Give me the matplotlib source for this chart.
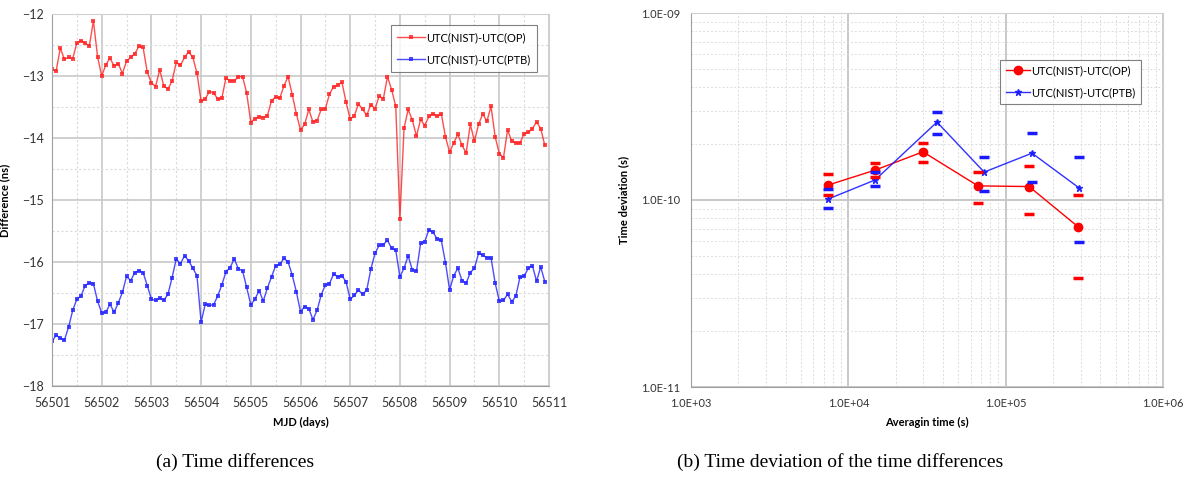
import numpy as np
import matplotlib
matplotlib.use('Agg')
import matplotlib.pyplot as plt
from matplotlib.ticker import MultipleLocator, LogLocator, FuncFormatter, NullFormatter

plt.rcParams['font.family'] = ['Lato', 'DejaVu Sans']

# (a) time differences, one point every 2 hours from MJD 56501
mjd_start = 56501
points_per_day = 12
diff_op = [-12.89, -12.92, -12.55, -12.73, -12.70, -12.72, -12.47, -12.43, -12.47, -12.52,
           -12.11, -12.69, -13.00, -12.82, -12.71, -12.84, -12.80, -12.96, -12.76, -12.70,
           -12.64, -12.52, -12.54, -12.94, -13.11, -13.17, -12.90, -13.16, -13.21, -13.08,
           -12.78, -12.83, -12.70, -12.61, -12.70, -12.95, -13.41, -13.37, -13.25, -13.27,
           -13.37, -13.36, -13.03, -13.08, -13.08, -13.01, -13.01, -13.27, -13.75, -13.69,
           -13.66, -13.67, -13.64, -13.40, -13.34, -13.36, -13.16, -13.01, -13.30, -13.61,
           -13.87, -13.78, -13.54, -13.74, -13.72, -13.54, -13.53, -13.29, -13.17, -13.15,
           -13.10, -13.42, -13.70, -13.64, -13.45, -13.54, -13.63, -13.46, -13.53, -13.32,
           -13.37, -13.01, -13.22, -13.49, -15.30, -13.84, -13.54, -13.71, -13.97, -13.70,
           -13.80, -13.65, -13.61, -13.65, -13.61, -13.98, -14.23, -14.08, -13.94, -14.12,
           -14.24, -13.78, -14.05, -13.78, -13.61, -13.73, -13.49, -13.98, -14.25, -14.32,
           -13.87, -14.05, -14.08, -14.08, -13.93, -13.91, -13.85, -13.74, -13.85, -14.12]
diff_ptb = [-17.28, -17.18, -17.23, -17.26, -17.05, -16.78, -16.60, -16.55, -16.38, -16.34,
            -16.35, -16.63, -16.82, -16.81, -16.68, -16.81, -16.66, -16.49, -16.23, -16.30,
            -16.17, -16.14, -16.17, -16.38, -16.60, -16.62, -16.58, -16.62, -16.52, -16.25,
            -15.95, -16.03, -15.90, -15.98, -16.10, -16.22, -16.97, -16.68, -16.70, -16.69,
            -16.55, -16.37, -16.16, -16.09, -15.95, -16.11, -16.14, -16.41, -16.69, -16.60,
            -16.46, -16.63, -16.42, -16.24, -16.06, -16.04, -15.94, -16.00, -16.21, -16.48,
            -16.80, -16.72, -16.75, -16.93, -16.78, -16.53, -16.37, -16.35, -16.19, -16.24,
            -16.22, -16.32, -16.60, -16.54, -16.45, -16.52, -16.45, -16.11, -15.86, -15.73,
            -15.72, -15.65, -15.78, -15.81, -16.24, -16.10, -15.90, -16.13, -16.15, -15.70,
            -15.67, -15.48, -15.52, -15.63, -15.65, -16.01, -16.45, -16.22, -16.10, -16.30,
            -16.34, -16.17, -16.10, -15.86, -15.89, -15.93, -15.93, -16.34, -16.63, -16.62,
            -16.52, -16.64, -16.55, -16.24, -16.23, -16.10, -16.06, -16.31, -16.08, -16.32]

# (b) time deviation
tau_op = [7400, 14800, 29800, 66700, 141000, 288000]
tdev_op = [1.20e-10, 1.445e-10, 1.81e-10, 1.19e-10, 1.18e-10, 7.2e-11]
tdev_op_hi = [1.38e-10, 1.58e-10, 2.02e-10, 1.41e-10, 1.52e-10, 1.06e-10]
tdev_op_lo = [1.06e-10, 1.33e-10, 1.60e-10, 9.64e-11, 8.41e-11, 3.83e-11]
tau_ptb = [7400, 14800, 36600, 73000, 147000, 293000]
tdev_ptb = [1.01e-10, 1.28e-10, 2.61e-10, 1.41e-10, 1.78e-10, 1.16e-10]
tdev_ptb_hi = [1.15e-10, 1.41e-10, 2.96e-10, 1.70e-10, 2.28e-10, 1.70e-10]
tdev_ptb_lo = [9.06e-11, 1.19e-10, 2.25e-10, 1.12e-10, 1.25e-10, 5.96e-11]

label_op = 'UTC(NIST)-UTC(OP)'
label_ptb = 'UTC(NIST)-UTC(PTB)'

W, H = 1192, 482
fig = plt.figure(figsize=(W / 100, H / 100), dpi=100)
tick_col = '#333333'

# ---- left panel
ax1 = fig.add_axes([52 / W, 1 - 386 / H, 497 / W, 372 / H])
mjd = mjd_start + np.arange(len(diff_op)) / points_per_day
ax1.plot(mjd, diff_op, color='#ff2020', lw=1.0, marker='s', ms=2.4, mew=0, alpha=0.8, label=label_op)
ax1.plot(mjd, diff_ptb, color='#2020ff', lw=1.0, marker='s', ms=2.4, mew=0, alpha=0.8, label=label_ptb)
ax1.set_xlim(56501, 56511)
ax1.set_ylim(-18, -12)
ax1.xaxis.set_major_locator(MultipleLocator(1))
ax1.xaxis.set_minor_locator(MultipleLocator(0.5))
ax1.yaxis.set_major_locator(MultipleLocator(1))
ax1.yaxis.set_minor_locator(MultipleLocator(0.5))
ax1.grid(which='major', color='#c8c8c8', lw=1.2)
ax1.grid(which='minor', color='#dadada', lw=0.8, ls=(0, (2, 2)))
ax1.set_axisbelow(True)
ax1.xaxis.set_major_formatter(FuncFormatter(lambda v, p: '%d' % v))
ax1.tick_params(which='both', length=0, labelsize=9, colors=tick_col, pad=8)
ax1.tick_params(axis='y', pad=6)
for s in ['top', 'right']:
    ax1.spines[s].set_color('#d0d0d0')
for s in ['left', 'bottom']:
    ax1.spines[s].set_color('#a0a0a0')
ax1.set_xlabel('MJD (days)', fontsize=8, fontweight='bold', labelpad=6)
ax1.set_ylabel('Difference (ns)', fontsize=8, fontweight='bold', labelpad=8)
leg1 = ax1.legend(loc='upper right', bbox_to_anchor=(0.987, 0.985), fontsize=8, frameon=True,
                  fancybox=False, edgecolor='#606060', handlelength=2.5, labelspacing=1.0,
                  borderpad=0.6, handletextpad=0.1)
leg1.get_frame().set_linewidth(0.8)

# ---- right panel
ax2 = fig.add_axes([691 / W, 1 - 387 / H, 472 / W, 374 / H])
ax2.set_xscale('log')
ax2.set_yscale('log')
ax2.plot(tau_op, tdev_op, color='#ff0000', lw=1.0, marker='o', ms=6, label=label_op)
ax2.plot(tau_ptb, tdev_ptb, color='#1a1aff', lw=1.0, marker='*', ms=5, label=label_ptb, alpha=0.9)
ax2.plot(tau_op, tdev_op_hi, ls='none', marker='_', ms=7, mew=2.5, color='#ff0000')
ax2.plot(tau_op, tdev_op_lo, ls='none', marker='_', ms=7, mew=2.5, color='#ff0000')
ax2.plot(tau_ptb, tdev_ptb_hi, ls='none', marker='_', ms=7, mew=2.5, color='#1a1aff')
ax2.plot(tau_ptb, tdev_ptb_lo, ls='none', marker='_', ms=7, mew=2.5, color='#1a1aff')
ax2.set_xlim(1e3, 1e6)
ax2.set_ylim(1e-11, 1e-9)
ax2.xaxis.set_major_locator(LogLocator(base=10))
ax2.yaxis.set_major_locator(LogLocator(base=10))
ax2.xaxis.set_minor_locator(LogLocator(base=10, subs=np.arange(2, 10)))
ax2.yaxis.set_minor_locator(LogLocator(base=10, subs=np.arange(2, 10)))
ax2.xaxis.set_minor_formatter(NullFormatter())
ax2.yaxis.set_minor_formatter(NullFormatter())
sci = FuncFormatter(lambda v, p: '%.1E' % v)
ax2.xaxis.set_major_formatter(sci)
ax2.yaxis.set_major_formatter(sci)
ax2.grid(which='major', color='#c8c8c8', lw=1.4)
ax2.grid(which='minor', color='#dcdcdc', lw=0.7, ls=(0, (2, 2)))
ax2.set_axisbelow(True)
ax2.tick_params(which='both', length=0, labelsize=8, colors=tick_col, pad=8)
for s in ['top', 'right']:
    ax2.spines[s].set_color('#d0d0d0')
for s in ['left', 'bottom']:
    ax2.spines[s].set_color('#a0a0a0')
ax2.set_xlabel('Averagin time (s)', fontsize=8, fontweight='bold', labelpad=6)
ax2.set_ylabel('Time deviation (s)', fontsize=8, fontweight='bold', labelpad=8)
leg2 = ax2.legend(loc='upper right', bbox_to_anchor=(0.965, 0.89), fontsize=8, frameon=True,
                  fancybox=False, edgecolor='#606060', handlelength=2.2, labelspacing=1.0,
                  borderpad=0.5, handletextpad=0.1)
leg2.get_frame().set_linewidth(0.8)

# captions
fig.text(235 / W, 1 - 462 / H, '(a) Time differences', ha='center', va='center',
         fontsize=14, family='Liberation Serif')
fig.text(840 / W, 1 - 462 / H, '(b) Time deviation of the time differences', ha='center',
         va='center', fontsize=14, family='Liberation Serif')

fig.savefig('out.png', dpi=100)
